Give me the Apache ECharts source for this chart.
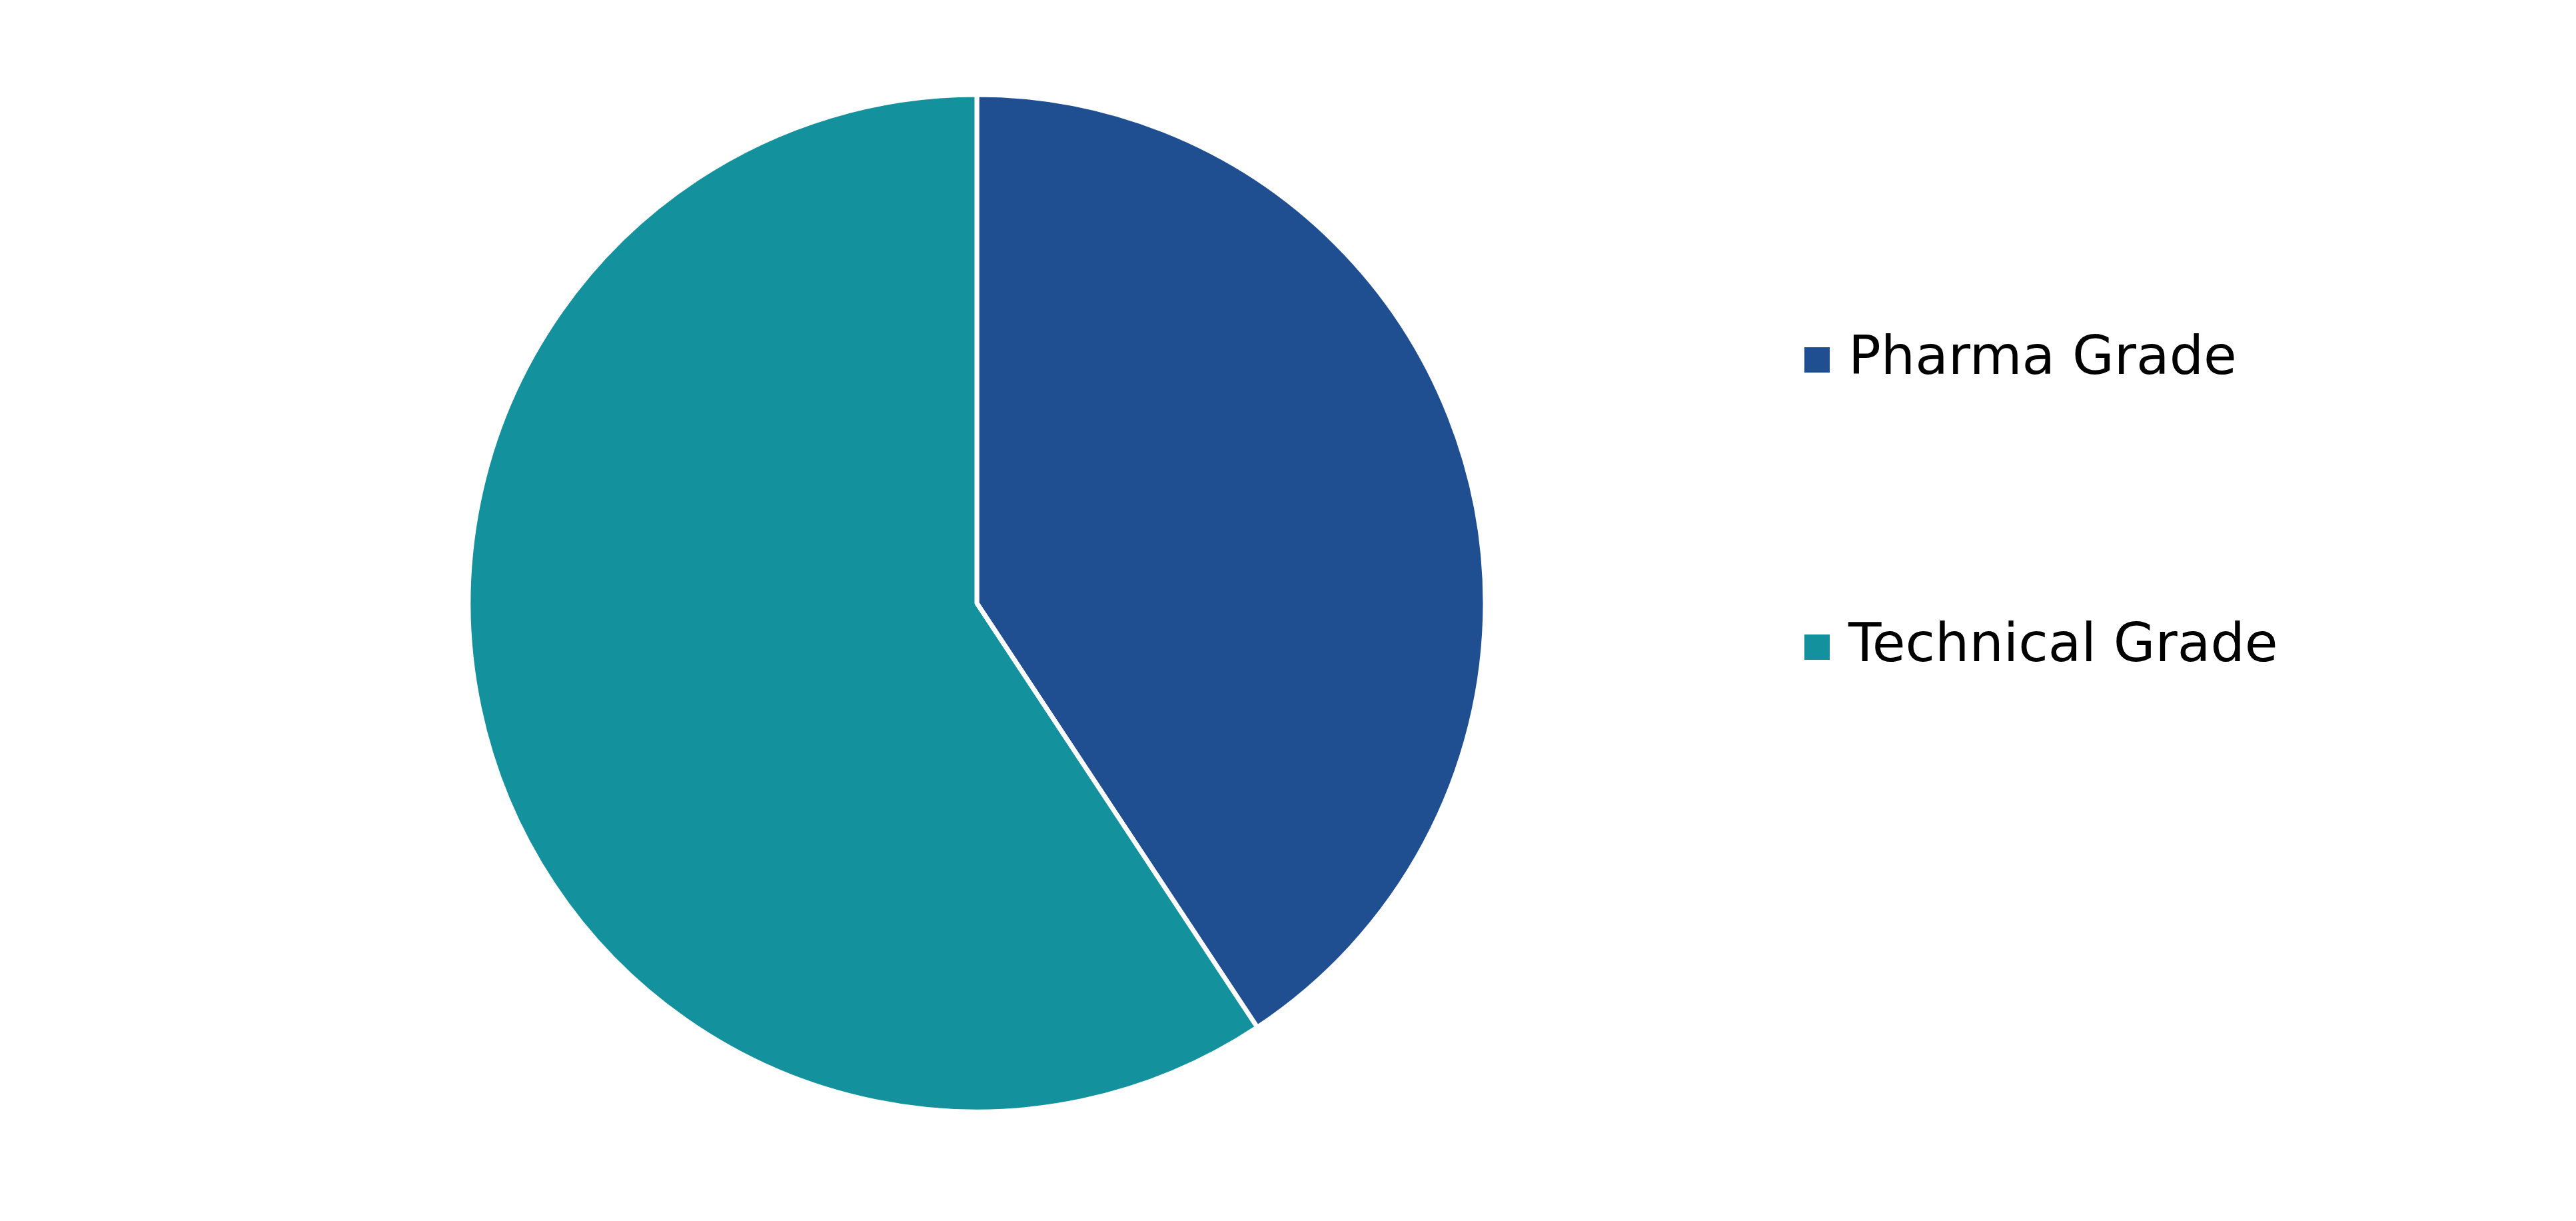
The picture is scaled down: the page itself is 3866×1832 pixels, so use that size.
<!DOCTYPE html>
<html>
<head>
<meta charset="utf-8">
<script src="https://cdn.jsdelivr.net/npm/echarts@6/dist/echarts.min.js"></script>
<style>
html,body{margin:0;padding:0;background:#fff;}
#grade_pie{width:3866px;height:1832px;}
</style>
</head>
<body>
<div id="grade_pie"></div>
<script>
var categories = ['Pharma Grade', 'Technical Grade'];
var shareValues = [40.7, 59.3];
var colorData = ['#1f4e91', '#13929e'];

function doPieChart(objId){
    var pieData = [];
    for(var i=0;i<categories.length;i++){
        pieData.push({name: categories[i], value: shareValues[i]});
    }
    var pie1 = echarts.init(document.getElementById(objId));
    var option = {
        color: colorData,
        animation: false,
        legend: {
            orient: 'vertical',
            left: 2706,
            top: 497,
            padding: 0,
            data: categories,
            icon: 'rect',
            itemWidth: 40,
            itemHeight: 40,
            itemGap: 345,
            textStyle: {
                color: '#000',
                fontFamily: 'DejaVu Sans',
                fontSize: 81,
                lineHeight: 80,
                padding: [6, 0, 0, 22]
            }
        },
        series: [
            {
                type: 'pie',
                center: [1466, 905],
                radius: 763,
                startAngle: 90,
                clockwise: true,
                label: {show: false},
                labelLine: {show: false},
                itemStyle: {
                    borderColor: '#fff',
                    borderWidth: 7
                },
                emphasis: {disabled: true},
                data: pieData
            }
        ]
    };
    pie1.setOption(option);
}
doPieChart('grade_pie');
</script>
</body>
</html>
